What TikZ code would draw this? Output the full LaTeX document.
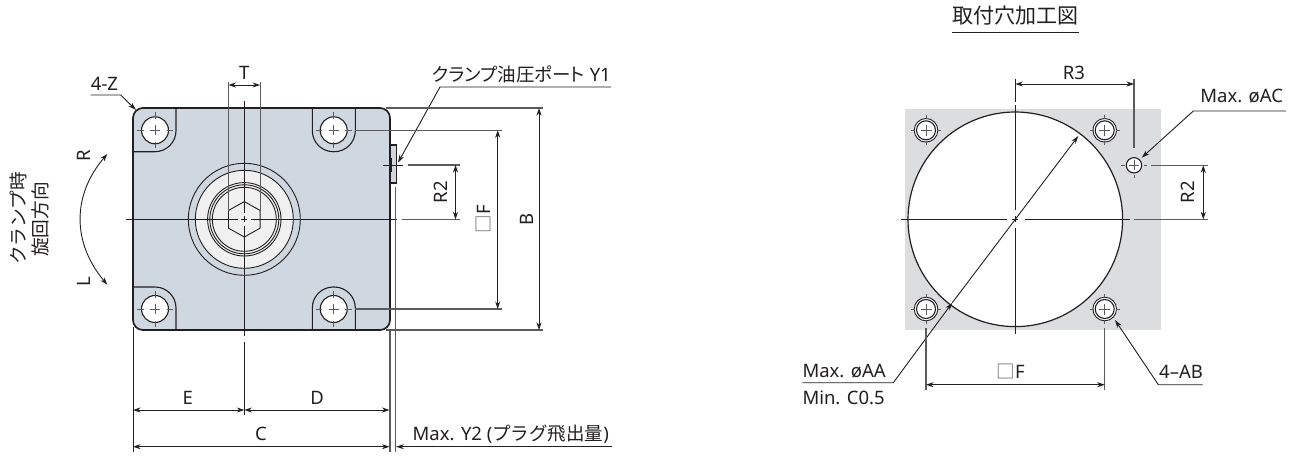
\documentclass[tikz,border=0pt]{standalone}
\usepackage{fontspec}
\setmainfont{Noto Sans}
\newfontfamily\cjk{Noto Sans CJK JP}
\newfontfamily\cjktight[RawFeature=+palt]{Noto Sans CJK JP}
\usetikzlibrary{arrows.meta}
\definecolor{inkdark}{HTML}{231F20}
\definecolor{bodyblue}{HTML}{CFD8E0}
\definecolor{platelight}{HTML}{F0F0F0}
\definecolor{plategray}{HTML}{DCDDDF}
\definecolor{inkgray}{HTML}{5A5B5E}
\tikzset{
    outline/.style={draw=inkdark, line width=1.7pt},
    thin line/.style={draw=inkdark, line width=0.9pt},
    ext line/.style={draw=inkgray, line width=1.1pt},
    dim/.style={draw=inkdark, line width=0.8pt, {Stealth[length=7.5pt,width=5pt]}-{Stealth[length=7.5pt,width=5pt]}},
    leader/.style={draw=inkdark, line width=0.9pt, -{Stealth[length=8pt,width=5pt]}},
    lbl/.style={font=\fontsize{18.5}{20}\selectfont, text=inkdark, inner sep=0pt},
    jlbl/.style={font=\fontsize{18.7}{20}\selectfont\cjk, text=inkdark, inner sep=0pt}
}
\newcommand{\sqmark}{{\cjk\textcolor{inkgray}{□}}}
\begin{document}
\begin{tikzpicture}[x=1pt, y=-1pt]
    \useasboundingbox (0,0) rectangle (1303,455);
    \fill[white] (0,0) rectangle (1303,455);

    % Side view, body
    \coordinate (ctrL) at (244.3,219.3);
    \fill[bodyblue, rounded corners=10pt] (133,108) rectangle (390,330);
    \draw[outline, fill=bodyblue] (390,145) -- (396.5,145) -- (396.5,183) -- (390,183);
    \draw[outline, rounded corners=10pt] (133,108) rectangle (390,330);

    % Pockets round the bolt holes
    \begin{scope}[thin line, line width=1.1pt]
    \draw[rounded corners=21pt] (176,108) -- (176,151.7) -- (133,151.7);
    \draw[rounded corners=21pt] (176,330) -- (176,287) -- (133,287);
    \draw[rounded corners=21pt] (312.3,108) -- (312.3,151.7) -- (355.3,151.7) -- (355.3,108);
    \draw[rounded corners=21pt] (312.3,330) -- (312.3,287) -- (355.3,287) -- (355.3,330);
    \end{scope}

    % Bolt holes
    \foreach \x/\y/\name in {155/130.3/boltA, 333.7/130.3/boltB, 155/309/boltC, 333.7/309/boltD} {
        \coordinate (\name) at (\x,\y);
        \begin{scope}[shift={(\x,\y)}]
        \draw[thin line, line width=1.1pt, fill=white] (0,0) circle[radius=13.5pt];
        \draw[ext line, line width=0.8pt] (-5,0) -- (5,0) (0,-5) -- (0,5);
        \draw[ext line, line width=0.8pt] (-18,0) -- (-11.5,0) (11.5,0) -- (18,0);
        \draw[ext line, line width=0.8pt] (0,-18) -- (0,-11.5) (0,11.5) -- (0,18);
        \end{scope}
    }

    % Plug and hexagon
    \begin{scope}[shift={(244.3,219.3)}]
    \draw[thin line] (0,0) circle[radius=56pt];
    \draw[thin line, fill=platelight] (0,0) circle[radius=49pt];
    \foreach \rad in {36.7,34.5,32} {
        \draw[thin line] (0,0) circle[radius=\rad pt];
    }
    \draw[thin line] (0,-17.7) -- (15.8,-8.85) -- (15.8,8.85) -- (0,17.7) -- (-15.8,8.85) -- (-15.8,-8.85) -- cycle;
    \draw[thin line, line width=0.7pt] (-3,0) -- (3,0) (0,-3) -- (0,3);
    \end{scope}

    % Center lines
    \draw[thin line] (125.7,219.3) -- (238,219.3) (250.5,219.3) -- (396.7,219.3);
    \draw[thin line] (244.3,100.7) -- (244.3,213) (244.3,225.5) -- (244.3,336);
    \draw[thin line] (244.3,342) -- (244.3,415);
    \draw[thin line] (382.7,165) -- (403,165) (391.5,158) -- (391.5,172);

    % T across flats
    \coordinate (flatA) at (228.5,85);
    \coordinate (flatB) at (260.1,85);
    \draw[ext line] (228.5,81.7) -- (228.5,210.5) (260.1,81.7) -- (260.1,210.5);
    \draw[dim] (flatA) -- (flatB);
    \node[lbl] (labelT) at (244.3,72.5) {T};

    % 4-Z
    \coordinate (cornerZ) at (136,110);
    \draw[leader] (90.7,95) -- (120.7,95) -- (cornerZ);
    \node[lbl] (labelZ) at (104.5,83.5) {4-Z};

    % Clamp port
    \coordinate (portY) at (398,162.7);
    \draw[leader] (611,87) -- (440,87) -- (portY);
    \node[lbl, anchor=base east] (labelPort) at (611,81) {{\cjktight クランプ油圧ポート} Y1};

    % Rotation direction
    \coordinate (turnR) at (107.3,154);
    \coordinate (turnL) at (107.3,284.7);
    \draw[dim, line width=0.9pt] (turnR) .. controls (72,195) and (72,243) .. (turnL);
    \node[lbl, rotate=90] (labelR) at (83.5,156) {R};
    \node[lbl, rotate=90] (labelL) at (83.5,281.5) {L};
    \node[jlbl, rotate=90] (labelTurnA) at (18.5,218.5) {クランプ時};
    \node[jlbl, rotate=90] (labelTurnB) at (40.5,219.5) {旋回方向};

    % R2, F, B on the side view
    \draw[ext line] (408,165) -- (460,165) (401.7,219.3) -- (460,219.3);
    \draw[ext line] (355.3,130.3) -- (501.7,130.3) (355.3,309) -- (501.7,309);
    \draw[ext line] (386,108) -- (543,108) (386,330) -- (543,330);
    \coordinate (dimR2a) at (455.5,165);
    \coordinate (dimR2b) at (455.5,219.3);
    \coordinate (dimFa) at (497.7,130.3);
    \coordinate (dimFb) at (497.7,309);
    \coordinate (dimBa) at (539,108);
    \coordinate (dimBb) at (539,330);
    \draw[dim] (dimR2a) -- (dimR2b);
    \draw[dim] (dimFa) -- (dimFb);
    \draw[dim] (dimBa) -- (dimBb);
    \node[lbl, rotate=90] (labelR2) at (441,192) {R2};
    \node[lbl, rotate=90] (labelF) at (483,219) {\sqmark F};
    \node[lbl, rotate=90] (labelB) at (527,219) {B};

    % E, D, C and Y2
    \draw[thin line] (133,327) -- (133,451.7);
    \draw[ext line] (390,330) -- (390,451.7) (395.8,186.7) -- (395.8,451.7);
    \coordinate (dimCa) at (133,446.7);
    \coordinate (dimCb) at (389.5,446.7);
    \coordinate (dimEa) at (133,410);
    \coordinate (dimEb) at (244.3,410);
    \coordinate (dimDb) at (389.5,410);
    \coordinate (plugY) at (396,446.7);
    \draw[dim] (dimEa) -- (dimEb);
    \draw[dim] (dimEb) -- (dimDb);
    \draw[dim] (dimCa) -- (dimCb);
    \draw[leader] (612,446.7) -- (plugY);
    \node[lbl] (labelE) at (187.7,398) {E};
    \node[lbl] (labelD) at (317,398) {D};
    \node[lbl] (labelC) at (261,433.5) {C};
    \node[lbl, anchor=base west] (labelY) at (412.5,440) {Max. Y2 ({\cjk プラグ飛出量})};

    % Mounting hole view, title
    \node[font=\fontsize{21}{24}\selectfont\cjk, text=inkdark, inner sep=0pt] (labelTitle) at (1015.5,15.5) {取付穴加工図};
    \draw[inkdark, line width=1.2pt] (951.7,32.3) -- (1079.3,32.3);

    % Plate and bore
    \coordinate (ctrM) at (1015.3,219.3);
    \fill[plategray] (905,109.3) rectangle (1161,330);
    \draw[outline, line width=1.2pt, fill=white] (ctrM) circle[radius=107.3pt];

    % Threaded holes
    \foreach \x/\y/\name in {926/130.3/tapA, 1104.7/130.3/tapB, 926/309/tapC, 1104.7/309/tapD} {
        \coordinate (\name) at (\x,\y);
        \begin{scope}[shift={(\x,\y)}]
        \draw[thin line, fill=white] (0,0) circle[radius=11.8pt];
        \draw[thin line, line width=1.1pt] (0,0) circle[radius=9.5pt];
        \draw[ext line, line width=0.8pt] (-5.5,0) -- (5.5,0) (0,-5.5) -- (0,5.5);
        \draw[ext line, line width=0.8pt] (-15,0) -- (-11,0) (11,0) -- (15,0);
        \draw[ext line, line width=0.8pt] (0,-15) -- (0,-11) (0,11) -- (0,15);
        \end{scope}
    }

    % Port hole
    \coordinate (holeAC) at (1134,165.3);
    \begin{scope}[shift={(1134,165.3)}]
    \draw[thin line, line width=1.1pt, fill=white] (0,0) circle[radius=7.7pt];
    \draw[ext line, line width=0.8pt] (-5,0) -- (5,0) (0,-5) -- (0,5);
    \draw[ext line, line width=0.8pt] (-13,0) -- (-9.5,0) (9.5,0) -- (13,0);
    \draw[ext line, line width=0.8pt] (0,9.5) -- (0,13);
    \end{scope}

    % Center lines
    \draw[thin line] (900.7,219.3) -- (1006.7,219.3) (1025,219.3) -- (1130,219.3);
    \draw[thin line] (1012.3,219.3) -- (1018.3,219.3);
    \draw[thin line] (1015.3,79) -- (1015.3,101.7) (1015.3,105) -- (1015.3,210);
    \draw[thin line] (1015.3,216.3) -- (1015.3,222.3) (1015.3,228) -- (1015.3,334);

    % R3 and R2
    \draw[ext line] (1134,79) -- (1134,148);
    \draw[ext line] (1150.7,165.3) -- (1207.7,165.3) (1134,219.3) -- (1207.7,219.3);
    \coordinate (dimR3a) at (1015.3,84);
    \coordinate (dimR3b) at (1134,84);
    \coordinate (dimRRa) at (1203.3,165.3);
    \coordinate (dimRRb) at (1203.3,219.3);
    \draw[dim] (dimR3a) -- (dimR3b);
    \draw[dim] (dimRRa) -- (dimRRb);
    \node[lbl] (labelR3) at (1074,72.5) {R3};
    \node[lbl, rotate=90] (labelRR) at (1188,192) {R2};

    % Max AC
    \coordinate (tipAC) at (1141.7,157.7);
    \draw[leader] (1286,111) -- (1193.3,111) -- (tipAC);
    \node[lbl] (labelAC) at (1241.7,96.5) {Max. øAC};

    % Max AA, diameter line
    \coordinate (tipAAa) at (1078.3,136);
    \coordinate (tipAAb) at (952.3,302.7);
    \draw[leader] (tipAAb) -- (tipAAa);
    \draw[leader] (802.3,382.7) -- (893.3,382.7) -- (tipAAb);
    \node[lbl, anchor=base west] (labelAA) at (802.3,377.5) {Max. øAA};
    \node[lbl, anchor=base west] (labelMin) at (802.3,404) {Min. C0.5};

    % F below
    \draw[ext line] (926,328) -- (926,390) (1104.7,328) -- (1104.7,390);
    \coordinate (dimPa) at (926,384.7);
    \coordinate (dimPb) at (1104.7,384.7);
    \draw[dim] (dimPa) -- (dimPb);
    \node[lbl] (labelP) at (1010.7,371.5) {\sqmark F};

    % 4-AB
    \coordinate (tipAB) at (1115,320);
    \draw[leader] (1202.7,384.7) -- (1158.3,384.7) -- (tipAB);
    \node[lbl] (labelAB) at (1181,371.5) {4–AB};
\end{tikzpicture}
\end{document}
